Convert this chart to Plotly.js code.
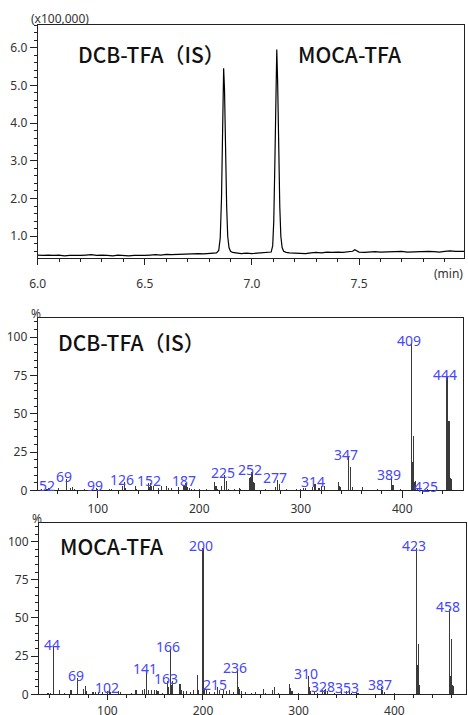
<!DOCTYPE html>
<html>
<head>
<meta charset="utf-8">
<script src="https://cdn.plot.ly/plotly-3.0.1.min.js"></script>
<style>html,body{margin:0;padding:0;background:#fff}#chart{width:468px;height:715px}</style>
</head>
<body>
<div id="chart"></div>
<script>
// ---- Chromatogram (retention time, min ; abundance x100,000) ----
const rt = [6.000,6.025,6.050,6.075,6.100,6.125,6.150,6.175,6.200,6.225,6.250,6.275,6.300,6.325,6.350,6.375,6.400,6.425,6.450,6.475,6.500,6.525,6.550,6.575,6.600,6.625,6.650,6.675,6.700,6.725,6.750,6.775,6.800,6.820,6.835,6.845,6.852,6.858,6.863,6.868,6.872,6.877,6.882,6.887,6.893,6.900,6.910,6.925,6.950,6.975,7.000,7.025,7.050,7.075,7.090,7.097,7.102,7.107,7.112,7.116,7.120,7.125,7.130,7.135,7.141,7.148,7.160,7.175,7.200,7.225,7.250,7.275,7.300,7.325,7.350,7.375,7.400,7.425,7.450,7.470,7.480,7.490,7.500,7.525,7.550,7.575,7.600,7.625,7.650,7.675,7.700,7.725,7.750,7.775,7.800,7.825,7.850,7.875,7.900,7.925,7.950,7.975,7.990];
const abund = [0.50,0.49,0.50,0.49,0.50,0.48,0.49,0.48,0.49,0.50,0.51,0.49,0.50,0.49,0.48,0.50,0.49,0.48,0.49,0.48,0.49,0.50,0.51,0.50,0.52,0.51,0.52,0.53,0.52,0.53,0.54,0.53,0.54,0.55,0.56,0.62,0.95,2.0,3.6,5.45,4.9,3.2,1.8,1.0,0.70,0.60,0.57,0.56,0.54,0.55,0.54,0.55,0.56,0.56,0.58,0.75,1.4,2.9,4.8,5.95,5.1,3.3,1.8,1.0,0.70,0.60,0.57,0.56,0.55,0.56,0.54,0.56,0.57,0.56,0.58,0.57,0.58,0.57,0.58,0.60,0.64,0.60,0.58,0.57,0.58,0.59,0.58,0.59,0.58,0.59,0.60,0.58,0.59,0.60,0.59,0.60,0.59,0.58,0.60,0.61,0.60,0.61,0.60];

// ---- Mass spectrum: DCB-TFA (IS) ----
const dcbMz  = [45,50,52,57,61,69,73,75,77,87,99,100,112,114,124,126,127,137,138,150,151,152,153,155,160,163,168,170,173,180,185,187,188,190,192,195,200,207,215,216,217,218,222,225,227,229,235,240,241,250,251,252,253,254,265,275,277,279,286,296,300,303,305,312,314,318,320,323,337,338,339,347,349,351,361,376,389,390,391,398,409,410,411,412,413,415,425,444,445,446,447,448];
const dcbInt = [0.8,0.6,1.2,0.5,1.2,7.5,1.5,2.2,1.0,0.8,1.5,0.8,0.8,1.0,2.5,5.6,1.5,3.0,1.0,4.5,2.0,5.0,2.5,3.0,1.5,2.5,3.0,1.5,1.5,2.0,3.0,5.0,2.0,1.5,0.8,0.8,0.6,0.8,5.6,3.0,2.5,1.0,3.0,10.0,6.3,1.0,1.0,1.5,1.0,7.8,8.5,12.0,5.5,5.0,1.0,2.0,6.7,4.0,0.8,1.0,1.0,1.2,1.5,2.0,4.4,1.5,2.5,3.0,5.5,2.5,2.0,22.0,15.5,2.0,2.0,1.0,9.0,3.5,3.5,1.0,96,18.5,35.5,5.5,6.0,1.5,1.0,74,14,45,8,7.5];
const dcbLabels = [52,69,99,126,152,187,225,252,277,314,347,389,409,425,444];

// ---- Mass spectrum: MOCA-TFA ----
const mocaMz  = [38,41,44,50,55,62,69,75,77,78,85,88,91,95,100,102,103,112,114,125,130,137,139,141,143,146,149,151,153,158,163,164,166,167,168,176,178,180,183,187,190,194,195,200,201,202,204,207,212,215,217,221,225,228,232,236,237,238,240,244,251,255,263,265,273,275,279,290,291,293,300,310,311,312,317,320,325,327,328,330,337,345,350,353,355,360,362,387,388,390,400,423,424,425,426,458,459,460,461,462];
const mocaInt = [1.0,1.0,31,2.5,1.0,2.5,11,3.5,5.5,2.0,1.5,1.5,1.2,1.2,2.0,3.0,1.5,2.0,1.5,1.0,2.5,2.5,3.5,15.5,3.0,3.0,3.0,3.0,2.0,1.0,8.5,5.0,29.5,6.0,9.0,6.5,3.0,2.0,2.0,1.5,2.5,12.5,3.0,96,12,4,3,1.5,1.5,4.5,2.5,3.0,2.0,2.5,1.5,16,5.0,3.5,2.0,1.5,1.0,1.5,3.5,1.0,2.5,4.5,1.0,6.5,4.0,2.0,1.0,12,4.5,2.0,1.5,1.0,3.0,3.0,3.5,2.0,1.0,2.0,2.0,3.0,1.0,1.5,1.0,4.5,2.5,1.5,0.8,96,19,33,6,56,12,36,6,5.5];
const mocaLabels = [44,69,102,141,163,166,200,215,236,310,328,353,387,423,458];

// ---- layout helpers (pixel -> paper) ----
const W = 468, H = 715;
const px = v => v / W;
const py = v => 1 - v / H;

const FONT = 'Noto Sans, Open Sans, sans-serif';
const TICKC = '#333';
const LINEC = '#222';

function axisBase(extra) {
  return Object.assign({
    showline: true, mirror: true, linecolor: LINEC, linewidth: 1,
    showgrid: false, zeroline: false,
    ticks: 'outside', tickcolor: LINEC, tickwidth: 1, ticklen: 7,
    tickfont: {family: FONT, size: 12, color: TICKC},
    fixedrange: true
  }, extra);
}

const traces = [
  {x: rt, y: abund, type: 'scatter', mode: 'lines', line: {color: '#000', width: 1.2}, xaxis: 'x', yaxis: 'y', hoverinfo: 'skip'},
  {x: dcbMz, y: dcbInt, type: 'bar', width: 1.1, marker: {color: '#3a3a3a', line: {width: 0}}, xaxis: 'x2', yaxis: 'y2', hoverinfo: 'skip'},
  {x: mocaMz, y: mocaInt, type: 'bar', width: 1.15, marker: {color: '#3a3a3a', line: {width: 0}}, xaxis: 'x3', yaxis: 'y3', hoverinfo: 'skip'}
];

const annotations = [];
function txt(text, xp, yp, opts) {
  annotations.push(Object.assign({
    text: text, xref: 'paper', yref: 'paper', x: px(xp), y: py(yp),
    showarrow: false, xanchor: 'left', yanchor: 'middle',
    font: {family: FONT, size: 12, color: TICKC}
  }, opts || {}));
}
// units and titles
txt('(x100,000)', 29, 19);
txt('(min)', 465, 273, {xanchor: 'right'});
txt('%', 36, 313, {xanchor: 'center'});
txt('%', 37, 518, {xanchor: 'center'});
const TFONT = {family: 'Noto Sans CJK JP, Noto Sans, sans-serif', size: 21, color: '#111', weight: 500};
txt('DCB-TFA（IS）', 76, 54, {font: TFONT});
txt('MOCA-TFA', 296, 54, {font: TFONT});
txt('DCB-TFA（IS）', 56, 342, {font: TFONT});
txt('MOCA-TFA', 58, 546, {font: TFONT});

// peak labels
function peakLabels(labels, mz, inten, xa, ya) {
  labels.forEach(m => {
    const i = mz.indexOf(m);
    annotations.push({
      text: String(m), x: m, y: inten[i], xref: xa, yref: ya,
      showarrow: false, xanchor: 'center', yanchor: 'bottom', yshift: -9, xshift: -2,
      font: {family: FONT, size: 14, color: '#4646ff'}
    });
  });
}
peakLabels(dcbLabels, dcbMz, dcbInt, 'x2', 'y2');
peakLabels(mocaLabels, mocaMz, mocaInt, 'x3', 'y3');

const layout = {
  width: W, height: H,
  margin: {l: 0, r: 0, t: 0, b: 0},
  paper_bgcolor: '#fff', plot_bgcolor: '#fff',
  showlegend: false, bargap: 0,
  xaxis: axisBase({domain: [px(37.7), px(464)], range: [6.0, 7.99], anchor: 'y',
    tickvals: [6.0, 6.5, 7.0, 7.5], ticktext: ['6.0','6.5','7.0','7.5'], ticklen: 6, ticklabelstandoff: 9,
    minor: {dtick: 0.1, tick0: 6.0, ticks: 'outside', ticklen: 3, tickcolor: LINEC, showgrid: false}}),
  yaxis: axisBase({domain: [py(257.7), py(25)], range: [0.43, 6.6], anchor: 'x',
    tickvals: [1,2,3,4,5,6], ticktext: ['1.0','2.0','3.0','4.0','5.0','6.0'],
    minor: {dtick: 0.2, tick0: 0, ticks: 'outside', ticklen: 3, tickcolor: LINEC, showgrid: false}}),
  xaxis2: axisBase({domain: [px(37.7), px(463)], range: [40.9, 459.8], anchor: 'y2',
    tickvals: [100,200,300,400],
    minor: {dtick: 20, tick0: 0, ticks: 'outside', ticklen: 3, tickcolor: LINEC, showgrid: false}}),
  yaxis2: axisBase({domain: [py(490.3), py(318.3)], range: [0, 112.4], anchor: 'x2',
    tickvals: [0,25,50,75,100],
    minor: {dtick: 5, tick0: 0, ticks: 'outside', ticklen: 3, tickcolor: LINEC, showgrid: false}}),
  xaxis3: axisBase({domain: [px(39), px(465.7)], range: [28.6, 474.6], anchor: 'y3',
    tickvals: [100,200,300,400], ticklen: 5,
    minor: {dtick: 20, tick0: 0, ticks: 'outside', ticklen: 3, tickcolor: LINEC, showgrid: false}}),
  yaxis3: axisBase({domain: [py(694.3), py(522.7)], range: [0, 112.4], anchor: 'x3',
    tickvals: [0,25,50,75,100],
    minor: {dtick: 5, tick0: 0, ticks: 'outside', ticklen: 3, tickcolor: LINEC, showgrid: false}}),
  annotations: annotations
};

Plotly.newPlot('chart', traces, layout, {staticPlot: true, displayModeBar: false});
</script>
</body>
</html>
